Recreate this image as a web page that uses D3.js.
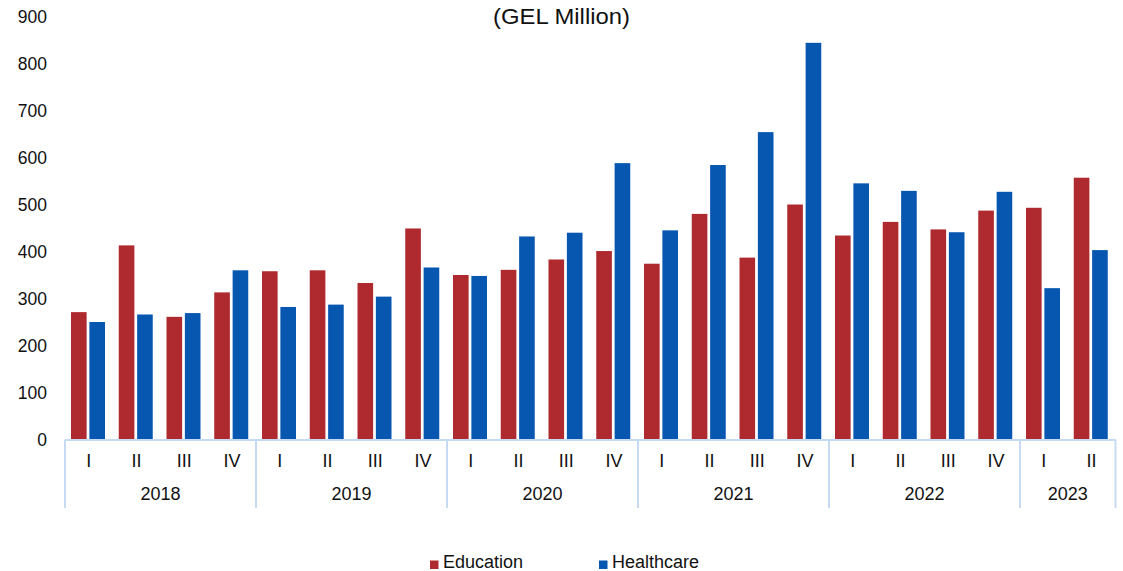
<!DOCTYPE html>
<html>
<head>
<meta charset="utf-8">
<script src="https://cdn.jsdelivr.net/npm/d3@7"></script>
<style>
  html, body { margin: 0; padding: 0; background: #fff; }
  svg { display: block; font-family: "Liberation Sans", Arial, sans-serif; }
</style>
</head>
<body>
<svg id="chart" width="1123" height="571"></svg>
<script>
const years = ["2018", "2019", "2020", "2021", "2022", "2023"];
const quartersPerYear = [4, 4, 4, 4, 4, 2];
const quarterLabels = ["I", "II", "III", "IV"];
const seriesNames = ["Education", "Healthcare"];
const education = [271, 413, 261, 313, 358, 360, 333, 449, 350, 361, 383, 401, 374, 480, 387, 500, 434, 463, 447, 487, 493, 557];
const healthcare = [250, 266, 269, 360, 282, 287, 304, 366, 348, 432, 440, 588, 445, 584, 654, 844, 545, 529, 441, 527, 322, 403];
const yTicks = [0, 100, 200, 300, 400, 500, 600, 700, 800, 900];
const colors = ["#AE2A2F", "#0757B1"];

// build categories
const cats = [];
years.forEach((yr, yi) => {
  for (let q = 0; q < quartersPerYear[yi]; q++) cats.push({ year: yr, q: quarterLabels[q] });
});
cats.forEach((c, i) => { c.i = i; c.values = [education[i], healthcare[i]]; });

const svg = d3.select("#chart");
const mLeft = 65, mRight = 1115.5, mBottom = 439.5, mTop = 16.5;

const x = d3.scaleBand().domain(cats.map(c => c.i)).range([mLeft, mRight]).padding(0);
const xs = d3.scaleBand().domain(seriesNames).range([6, x.bandwidth() - 7.75]).paddingInner(0.15);
const y = d3.scaleLinear().domain([0, 900]).range([mBottom, mTop]);

// title
svg.append("text").attr("x", 561.5).attr("y", 18).attr("text-anchor", "middle")
  .attr("dominant-baseline", "middle").attr("font-size", 21.5).attr("fill", "#111")
  .attr("textLength", 137).attr("lengthAdjust", "spacingAndGlyphs")
  .text("(GEL Million)");

// y axis
const yAxis = svg.append("g").attr("transform", `translate(${mLeft - 16},0)`)
  .call(d3.axisLeft(y).tickValues(yTicks).tickSize(0).tickPadding(2).tickFormat(d3.format("d")));
yAxis.select(".domain").remove();
yAxis.selectAll("text").attr("font-size", 17.5).attr("fill", "#111")
  .attr("font-family", "Liberation Sans, Arial, sans-serif");

// bars
const groups = svg.append("g").selectAll("g").data(cats).join("g")
  .attr("transform", d => `translate(${x(d.i)},0)`);
groups.selectAll("rect").data(d => d.values.map((v, k) => ({ v, k })))
  .join("rect")
  .attr("x", d => xs(seriesNames[d.k]))
  .attr("width", xs.bandwidth())
  .attr("y", d => y(d.v))
  .attr("height", d => y(0) - y(d.v))
  .attr("fill", d => colors[d.k]);

// x axis line
const axisColor = "#C6DAF2";
svg.append("line").attr("x1", mLeft).attr("x2", mRight).attr("y1", mBottom + 0.5).attr("y2", mBottom + 0.5)
  .attr("stroke", axisColor).attr("stroke-width", 2);

// quarter labels
svg.append("g").selectAll("text").data(cats).join("text")
  .attr("x", d => x(d.i) + x.bandwidth() / 2)
  .attr("y", 462)
  .attr("text-anchor", "middle").attr("dominant-baseline", "middle")
  .attr("font-size", 18).attr("fill", "#111")
  .text(d => d.q);

// year groups
let start = 0;
const yearGroups = years.map((yr, yi) => {
  const g = { year: yr, start: start, end: start + quartersPerYear[yi] - 1 };
  start += quartersPerYear[yi];
  return g;
});
const bounds = [x(0)].concat(yearGroups.map(g => x(g.end) + x.bandwidth()));
svg.append("g").selectAll("line").data(bounds).join("line")
  .attr("x1", d => d).attr("x2", d => d)
  .attr("y1", mBottom).attr("y2", 508)
  .attr("stroke", axisColor).attr("stroke-width", 2);
svg.append("g").selectAll("text").data(yearGroups).join("text")
  .attr("x", d => (x(d.start) + x(d.end) + x.bandwidth()) / 2)
  .attr("y", 495)
  .attr("text-anchor", "middle").attr("dominant-baseline", "middle")
  .attr("font-size", 18).attr("fill", "#111")
  .text(d => d.year);

// legend
const legendItems = [{ name: "Education", x: 430 }, { name: "Healthcare", x: 599 }];
const lg = svg.append("g").selectAll("g").data(legendItems).join("g")
  .attr("transform", d => `translate(${d.x},0)`);
lg.append("rect").attr("x", 0).attr("y", 560.5).attr("width", 8.5).attr("height", 8.5)
  .attr("fill", (d, i) => colors[i]);
lg.append("text").attr("x", 13).attr("y", 563).attr("dominant-baseline", "middle")
  .attr("font-size", 18).attr("fill", "#111").text(d => d.name);
</script>
</body>
</html>
